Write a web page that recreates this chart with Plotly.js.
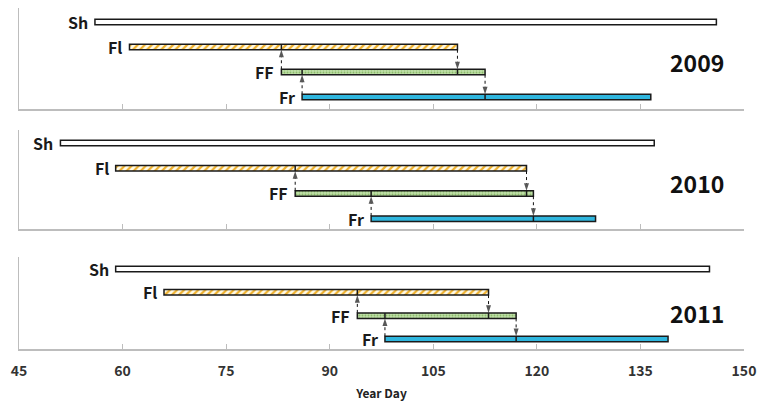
<!DOCTYPE html>
<html>
<head>
<meta charset="utf-8">
<script src="https://cdn.plot.ly/plotly-3.0.1.min.js"></script>
<style>html,body{margin:0;padding:0;background:#fff;}#chart{width:758px;height:405px;}</style>
</head>
<body>
<div id="chart"></div>
<script>
// ---- data (Year Day of start / end of each phase) ----
const years = ['2009', '2010', '2011'];
const phases = ['Sh', 'Fl', 'FF', 'Fr'];
const phaseRow = [3, 2, 1, 0];
const start2009 = [56, 61, 83, 86];
const end2009   = [146, 108.5, 112.5, 136.5];
const start2010 = [51, 59, 85, 96];
const end2010   = [137, 118.5, 119.5, 128.5];
const start2011 = [59, 66, 94, 98];
const end2011   = [145, 113, 117, 139];
const tickVals = [45, 60, 75, 90, 105, 120, 135, 150];

const starts = [start2009, start2010, start2011];
const ends = [end2009, end2010, end2011];

// ---- styling ----
const FONT = "'Noto Sans CJK KR', 'Noto Sans', sans-serif";
const AXC = '#bdbdbd';
const panels = [
  {dom: [0.7038, 1], range: [-0.48, 3.56], px: 25.0, yearY: 1.40},
  {dom: [0.3519, 0.6422], range: [-0.41, 3.52], px: 25.2, yearY: 1.41},
  {dom: [0, 0.2698], range: [-0.43, 3.515], px: 23.3, yearY: 1.10}
];
const phaseMarker = [
  {color: '#ffffff'},
  {color: '#ffffff', pattern: {shape: '/', fgcolor: '#efb02c', bgcolor: '#fffbe8', size: 5, solidity: 0.45}},
  {color: '#b7da9e', pattern: {shape: '.', fgcolor: '#8dbb6c', bgcolor: '#bfe0a8', size: 3, solidity: 0.3}},
  {color: '#2fb6de'}
];

const traces = [];
const annotations = [];
const layout = {
  width: 758, height: 405,
  margin: {l: 19, r: 14, t: 8, b: 56},
  paper_bgcolor: '#ffffff', plot_bgcolor: '#ffffff',
  showlegend: false, barmode: 'overlay',
  font: {family: FONT, color: '#222'},
  annotations: annotations
};

panels.forEach((p, i) => {
  const sfx = i === 0 ? '' : String(i + 1);
  const xa = 'x' + sfx, ya = 'y' + sfx;
  const bw = 5.5 / p.px;          // bar thickness in row units
  const hw = bw / 2;
  const st = starts[i], en = ends[i];

  layout['xaxis' + sfx] = {
    domain: [0, 1], range: [45, 150], anchor: ya,
    showline: true, linecolor: AXC, linewidth: 1.5,
    ticks: 'inside', ticklen: 5, tickcolor: AXC, tickwidth: 1.2,
    tickvals: tickVals, ticktext: tickVals.map(String),
    showticklabels: i === 2, ticklabelstandoff: 9,
    tickfont: {family: FONT, size: 14, color: '#333', weight: 'bold'},
    showgrid: false, zeroline: false, fixedrange: true,
    title: i === 2 ? {text: 'Year Day', font: {family: FONT, size: 12, color: '#222', weight: 'bold'}, standoff: 10} : {text: ''}
  };
  layout['yaxis' + sfx] = {
    domain: p.dom, range: p.range, anchor: xa,
    showline: true, linecolor: AXC, linewidth: 1.5,
    ticks: '', showticklabels: false, showgrid: false, zeroline: false, fixedrange: true
  };

  // bars
  phases.forEach((ph, k) => {
    traces.push({
      type: 'bar', orientation: 'h', xaxis: xa, yaxis: ya,
      y: [phaseRow[k]], base: [st[k]], x: [en[k] - st[k]], width: [bw],
      marker: Object.assign({line: {color: '#1a1a1a', width: 1.5}}, phaseMarker[k]),
      hoverinfo: 'skip'
    });
    annotations.push({
      xref: xa, yref: ya, x: st[k], y: phaseRow[k], text: ph,
      showarrow: false, xanchor: 'right', yanchor: 'middle', xshift: -5,
      font: {family: FONT, size: 16, color: '#1a1a1a', weight: 'bold'}
    });
  });

  // transition arrows: [x, fromRow, toRow]
  const arrows = [
    [st[2], 1, 2], // FF start -> up to Fl
    [st[3], 0, 1], // Fr start -> up to FF
    [en[1], 2, 1], // Fl end -> down to FF
    [en[2], 1, 0]  // FF end -> down to Fr
  ];
  const tickX = [], tickY = [];
  arrows.forEach(a => {
    const dir = a[2] > a[1] ? 1 : -1;
    traces.push({
      type: 'scatter', mode: 'lines+markers', xaxis: xa, yaxis: ya,
      x: [a[0], a[0]], y: [a[1] + dir * hw, a[2] - dir * hw],
      line: {color: '#111', width: 1, dash: 'dot'},
      marker: {symbol: ['circle', 'arrow'], size: [0, 8], angleref: 'previous', color: '#111', line: {width: 0}},
      hoverinfo: 'skip', cliponaxis: false
    });
    tickX.push(a[0], a[0], null);
    tickY.push(a[2] - hw, a[2] + hw, null);
  });
  traces.push({
    type: 'scatter', mode: 'lines', xaxis: xa, yaxis: ya,
    x: tickX, y: tickY, line: {color: '#1a1a1a', width: 1.5}, hoverinfo: 'skip'
  });

  annotations.push({
    xref: xa, yref: ya, x: 143.2, y: p.yearY, text: years[i],
    showarrow: false, xanchor: 'center', yanchor: 'middle',
    font: {family: FONT, size: 23, color: '#111', weight: 'bold'}
  });
});

Plotly.newPlot('chart', traces, layout, {displayModeBar: false, staticPlot: true});
</script>
</body>
</html>
